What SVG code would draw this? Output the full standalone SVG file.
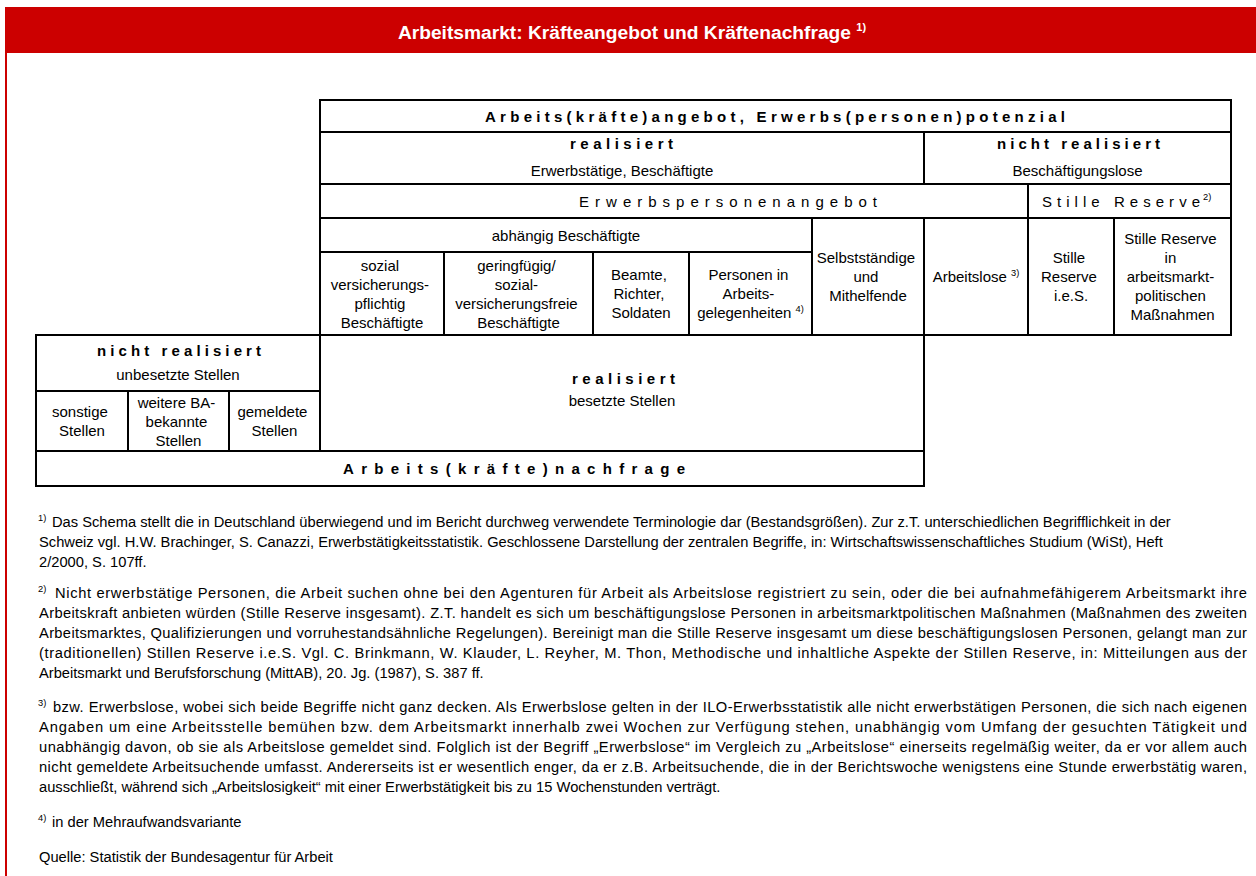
<svg xmlns="http://www.w3.org/2000/svg" width="1256" height="876" viewBox="0 0 1256 876">
  <style>
    .t { font-family: "Liberation Sans", Arial, Helvetica, sans-serif; font-size: 15px; fill: #000; }
    .fn { font-family: "Liberation Sans", Arial, Helvetica, sans-serif; font-size: 14.7px; fill: #000; }
    .c { text-anchor: middle; }
    .b { font-weight: bold; }
    .sup { font-size: 9.3px; }
    .cell { fill: none; stroke: #000; stroke-width: 2; }
    .title { font-family: "Liberation Sans", Arial, Helvetica, sans-serif; font-size: 19.2px; font-weight: bold; fill: #fff; text-anchor: middle; }
  </style>

  <rect width="1256" height="876" fill="#fff"/>

  <!-- page frame and title bar -->
  <g id="header">
    <rect x="5" y="7" width="1251" height="46" fill="#cc0000"/>
    <line x1="6" y1="53" x2="6" y2="876" stroke="#cc0000" stroke-width="2"/>
    <text class="title" x="632" y="39">Arbeitsmarkt: Kräfteangebot und Kräftenachfrage <tspan font-size="11px" dy="-8">1)</tspan></text>
  </g>

  <!-- labour supply -->
  <g id="angebot">
    <rect class="cell" x="320" y="100" width="911" height="32"/>
    <text class="t b" x="485" y="121.5" textLength="580" lengthAdjust="spacing">Arbeits(kräfte)angebot, Erwerbs(personen)potenzial</text>
  </g>

  <g id="realisiert-angebot">
    <rect class="cell" x="320" y="132" width="604" height="52"/>
    <text class="t b" x="570" y="149" textLength="103" lengthAdjust="spacing">realisiert</text>
    <text class="t c" x="622" y="176">Erwerbstätige, Beschäftigte</text>
  </g>

  <g id="nicht-realisiert-angebot">
    <rect class="cell" x="924" y="132" width="307" height="52"/>
    <text class="t b" x="997" y="149" textLength="163" lengthAdjust="spacing">nicht realisiert</text>
    <text class="t c" x="1077.5" y="176">Beschäftigungslose</text>
  </g>

  <g id="erwerbspersonenangebot">
    <rect class="cell" x="320" y="184" width="708" height="34"/>
    <text class="t" x="579" y="206.5" textLength="298" lengthAdjust="spacing">Erwerbspersonenangebot</text>
  </g>

  <g id="stille-reserve">
    <rect class="cell" x="1028" y="184" width="203" height="34"/>
    <text class="t" x="1042" y="206.5" textLength="158" lengthAdjust="spacing">Stille Reserve</text>
    <text class="t sup" x="1203" y="200">2)</text>
  </g>

  <g id="abhaengig">
    <rect class="cell" x="320" y="218" width="492" height="34"/>
    <text class="t c" x="566" y="240.5">abhängig Beschäftigte</text>
  </g>

  <g id="svb">
    <rect class="cell" x="320" y="252" width="124" height="83"/>
    <text class="t c" y="270.5">
      <tspan x="382">sozial</tspan>
      <tspan x="382" dy="19">versicherungs-</tspan>
      <tspan x="382" dy="19">pflichtig</tspan>
      <tspan x="382" dy="19">Beschäftigte</tspan>
    </text>
  </g>

  <g id="geringfuegig">
    <rect class="cell" x="444" y="252" width="149" height="83"/>
    <text class="t c" y="270.5">
      <tspan x="518.5">geringfügig/</tspan>
      <tspan x="518.5" dy="19">sozial-</tspan>
      <tspan x="518.5" dy="19">versicherungsfreie</tspan>
      <tspan x="518.5" dy="19">Beschäftigte</tspan>
    </text>
  </g>

  <g id="beamte">
    <rect class="cell" x="593" y="252" width="96" height="83"/>
    <text class="t c" y="280">
      <tspan x="641">Beamte,</tspan>
      <tspan x="641" dy="19">Richter,</tspan>
      <tspan x="641" dy="19">Soldaten</tspan>
    </text>
  </g>

  <g id="arbeitsgelegenheiten">
    <rect class="cell" x="689" y="252" width="123" height="83"/>
    <text class="t c" y="280">
      <tspan x="750.5">Personen in</tspan>
      <tspan x="750.5" dy="19">Arbeits-</tspan>
      <tspan x="750.5" dy="19">gelegenheiten <tspan class="sup" dy="-6">4)</tspan></tspan>
    </text>
  </g>

  <g id="selbststaendige">
    <rect class="cell" x="812" y="218" width="112" height="117"/>
    <text class="t c" y="263">
      <tspan x="868">Selbstständige</tspan>
      <tspan x="868" dy="19">und</tspan>
      <tspan x="868" dy="19">Mithelfende</tspan>
    </text>
  </g>

  <g id="arbeitslose">
    <rect class="cell" x="924" y="218" width="104" height="117"/>
    <text class="t c" x="976" y="282">Arbeitslose <tspan class="sup" dy="-6">3)</tspan></text>
  </g>

  <g id="stille-reserve-ies">
    <rect class="cell" x="1028" y="218" width="86" height="117"/>
    <text class="t c" y="263">
      <tspan x="1071">Stille</tspan>
      <tspan x="1071" dy="19">Reserve</tspan>
      <tspan x="1071" dy="19">i.e.S.</tspan>
    </text>
  </g>

  <g id="stille-reserve-massnahmen">
    <rect class="cell" x="1114" y="218" width="117" height="117"/>
    <text class="t c" y="244">
      <tspan x="1172.5">Stille Reserve</tspan>
      <tspan x="1172.5" dy="19">in</tspan>
      <tspan x="1172.5" dy="19">arbeitsmarkt-</tspan>
      <tspan x="1172.5" dy="19">politischen</tspan>
      <tspan x="1172.5" dy="19">Maßnahmen</tspan>
    </text>
  </g>

  <!-- labour demand -->
  <g id="nicht-realisiert-nachfrage">
    <rect class="cell" x="36" y="335" width="284" height="56"/>
    <text class="t b" x="97" y="356" textLength="164" lengthAdjust="spacing">nicht realisiert</text>
    <text class="t c" x="178" y="380">unbesetzte Stellen</text>
  </g>

  <g id="sonstige">
    <rect class="cell" x="36" y="391" width="92" height="60"/>
    <text class="t c" y="417">
      <tspan x="82">sonstige</tspan>
      <tspan x="82" dy="19">Stellen</tspan>
    </text>
  </g>

  <g id="ba-bekannte">
    <rect class="cell" x="128" y="391" width="101" height="60"/>
    <text class="t c" y="407.5">
      <tspan x="178.5">weitere BA-</tspan>
      <tspan x="178.5" dy="19">bekannte</tspan>
      <tspan x="178.5" dy="19">Stellen</tspan>
    </text>
  </g>

  <g id="gemeldete">
    <rect class="cell" x="229" y="391" width="91" height="60"/>
    <text class="t c" y="417">
      <tspan x="274.5">gemeldete</tspan>
      <tspan x="274.5" dy="19">Stellen</tspan>
    </text>
  </g>

  <g id="realisiert-nachfrage">
    <rect class="cell" x="320" y="335" width="604" height="116"/>
    <text class="t b" x="572" y="383.5" textLength="103" lengthAdjust="spacing">realisiert</text>
    <text class="t c" x="622" y="405.5">besetzte Stellen</text>
  </g>

  <g id="nachfrage">
    <rect class="cell" x="36" y="451" width="888" height="35"/>
    <text class="t b" x="343" y="474" textLength="342" lengthAdjust="spacing">Arbeits(kräfte)nachfrage</text>
  </g>

  <!-- footnotes -->
  <g id="footnotes">
    <text class="fn sup" x="38" y="521">1)</text>
    <text class="fn" x="52" y="527">Das Schema stellt die in Deutschland überwiegend und im Bericht durchweg verwendete Terminologie dar (Bestandsgrößen). Zur z.T. unterschiedlichen Begrifflichkeit in der</text>
    <text class="fn" x="39" y="547">Schweiz vgl. H.W. Brachinger, S. Canazzi, Erwerbstätigkeitsstatistik. Geschlossene Darstellung der zentralen Begriffe, in: Wirtschaftswissenschaftliches Studium (WiSt), Heft</text>
    <text class="fn" x="39" y="567">2/2000, S. 107ff.</text>

    <text class="fn sup" x="38" y="592">2)</text>
    <text class="fn" x="55" y="598" textLength="1192" lengthAdjust="spacing">Nicht erwerbstätige Personen, die Arbeit suchen ohne bei den Agenturen für Arbeit als Arbeitslose registriert zu sein, oder die bei aufnahmefähigerem Arbeitsmarkt ihre</text>
    <text class="fn" x="39" y="618" textLength="1208" lengthAdjust="spacing">Arbeitskraft anbieten würden (Stille Reserve insgesamt). Z.T. handelt es sich um beschäftigungslose Personen in arbeitsmarktpolitischen Maßnahmen (Maßnahmen des zweiten</text>
    <text class="fn" x="39" y="638" textLength="1208" lengthAdjust="spacing">Arbeitsmarktes, Qualifizierungen und vorruhestandsähnliche Regelungen). Bereinigt man die Stille Reserve insgesamt um diese beschäftigungslosen Personen, gelangt man zur</text>
    <text class="fn" x="39" y="658" textLength="1208" lengthAdjust="spacing">(traditionellen) Stillen Reserve i.e.S. Vgl. C. Brinkmann, W. Klauder, L. Reyher, M. Thon, Methodische und inhaltliche Aspekte der Stillen Reserve, in: Mitteilungen aus der</text>
    <text class="fn" x="39" y="678">Arbeitsmarkt und Berufsforschung (MittAB), 20. Jg. (1987), S. 387 ff.</text>

    <text class="fn sup" x="38" y="706">3)</text>
    <text class="fn" x="53" y="712" textLength="1194" lengthAdjust="spacing">bzw. Erwerbslose, wobei sich beide Begriffe nicht ganz decken. Als Erwerbslose gelten in der ILO-Erwerbsstatistik alle nicht erwerbstätigen Personen, die sich nach eigenen</text>
    <text class="fn" x="39" y="732" textLength="1208" lengthAdjust="spacing">Angaben um eine Arbeitsstelle bemühen bzw. dem Arbeitsmarkt innerhalb zwei Wochen zur Verfügung stehen, unabhängig vom Umfang der gesuchten Tätigkeit und</text>
    <text class="fn" x="39" y="752" textLength="1208" lengthAdjust="spacing">unabhängig davon, ob sie als Arbeitslose gemeldet sind. Folglich ist der Begriff „Erwerbslose“ im Vergleich zu „Arbeitslose“ einerseits regelmäßig weiter, da er vor allem auch</text>
    <text class="fn" x="39" y="772" textLength="1208" lengthAdjust="spacing">nicht gemeldete Arbeitsuchende umfasst. Andererseits ist er wesentlich enger, da er z.B. Arbeitsuchende, die in der Berichtswoche wenigstens eine Stunde erwerbstätig waren,</text>
    <text class="fn" x="39" y="792">ausschließt, während sich „Arbeitslosigkeit“ mit einer Erwerbstätigkeit bis zu 15 Wochenstunden verträgt.</text>

    <text class="fn sup" x="38" y="821">4)</text>
    <text class="fn" x="52" y="827">in der Mehraufwandsvariante</text>

    <text class="fn" x="39" y="862">Quelle: Statistik der Bundesagentur für Arbeit</text>
  </g>
</svg>
